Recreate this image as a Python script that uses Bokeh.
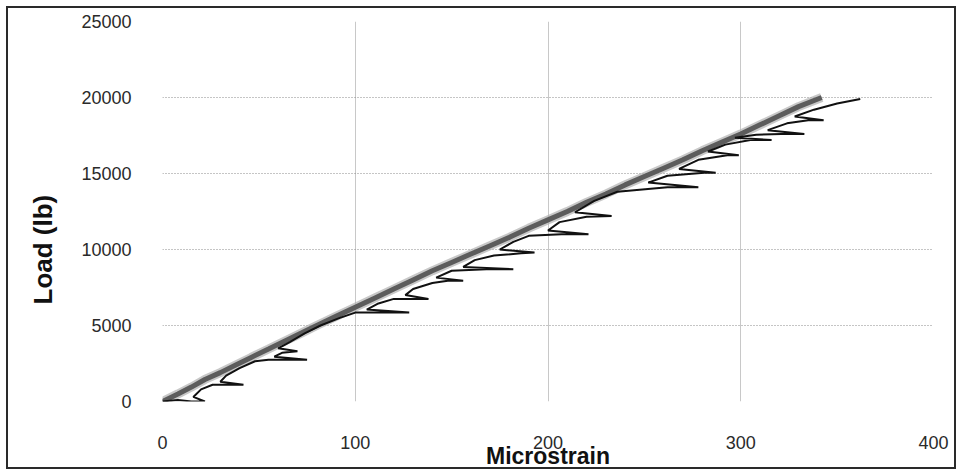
from bokeh.plotting import figure
from bokeh.models import Range1d, Title, FixedTicker
from bokeh.embed import file_html
from bokeh.resources import INLINE

# ---- data ----
x_ticks = [0, 100, 200, 300, 400]
y_ticks = [0, 5000, 10000, 15000, 20000, 25000]

gray_strain = [0, 8, 15, 22, 30, 38, 46, 55, 63, 72, 80, 90, 100, 110, 120, 130, 140,
               150, 160, 170, 180, 190, 200, 210, 220, 230, 240, 250, 260, 270, 280,
               290, 300, 310, 320, 330, 342]
gray_load = [0, 500, 950, 1450, 1900, 2400, 2900, 3450, 3950, 4500, 5000, 5600, 6200,
             6800, 7400, 8000, 8600, 9150, 9700, 10250, 10800, 11400, 11950, 12500,
             13100, 13650, 14250, 14800, 15350, 15900, 16500, 17050, 17600, 18200,
             18800, 19400, 20000]

black_strain = [0, 8, 15, 22, 16, 20, 26, 42, 30, 33, 40, 48, 55, 75, 58, 62, 70, 60,
                66, 74, 82, 92, 100, 128, 106, 112, 120, 138, 126, 130, 140, 148, 156,
                142, 150, 168, 182, 156, 162, 172, 186, 193, 175, 182, 190, 207, 221,
                200, 206, 220, 233, 214, 224, 236, 262, 278, 252, 262, 281, 287, 268,
                278, 293, 299, 283, 292, 305, 316, 297, 308, 321, 333, 314, 324, 335,
                343, 328, 338, 350, 362]
black_load = [0, 100, 0, 0, 300, 800, 1100, 1100, 1300, 1700, 2200, 2650, 2750, 2750,
              2950, 3200, 3300, 3500, 3900, 4500, 5000, 5500, 5850, 5850, 6050, 6450,
              6750, 6750, 7000, 7400, 7800, 7950, 7950, 8150, 8600, 8700, 8700, 8850,
              9300, 9600, 9750, 9800, 10000, 10500, 10900, 11000, 11000, 11250, 11800,
              12150, 12200, 12450, 13200, 13800, 14100, 14100, 14400, 14850, 15050,
              15050, 15300, 15900, 16200, 16200, 16450, 16900, 17200, 17200, 17350,
              17550, 17600, 17600, 17850, 18300, 18500, 18500, 18750, 19200, 19600,
              19900]

FONT = "Liberation Sans"

p = figure(width=950, height=463, output_backend="svg", toolbar_location=None,
           x_range=Range1d(0, 400), y_range=Range1d(0, 25000),
           min_border_left=154, min_border_right=25, min_border_top=13,
           min_border_bottom=68)
p.styles = {"border": "2px solid #2a2a2a", "margin-left": "6px", "margin-top": "6px"}
p.background_fill_color = "white"
p.border_fill_color = "white"
p.outline_line_color = None

# series
p.line(gray_strain, gray_load, line_color="#b0b0b0", line_width=9, line_alpha=0.7)
p.line(gray_strain, gray_load, line_color="#5c5c5c", line_width=5)
p.line(black_strain, black_load, line_color="#111111", line_width=2)

# axes
for ax in (p.xaxis[0], p.yaxis[0]):
    ax.axis_line_color = None
    ax.major_tick_line_color = None
    ax.minor_tick_line_color = None
    ax.major_label_text_font = FONT
    ax.major_label_text_font_size = "18px"
    ax.major_label_text_color = "#2a2a2a"
p.xaxis.ticker = FixedTicker(ticks=x_ticks)
p.yaxis.ticker = FixedTicker(ticks=y_ticks)
p.xaxis.major_label_standoff = 28
p.yaxis.major_label_standoff = 25
p.xaxis.axis_label = "Microstrain"
p.xaxis.axis_label_text_font = FONT
p.xaxis.axis_label_text_font_size = "23px"
p.xaxis.axis_label_text_font_style = "bold"
p.xaxis.axis_label_text_color = "#111111"
p.xaxis.axis_label_standoff = -9

ylab = Title(text="Load (lb)", align="left", vertical_align="top", offset=97,
             standoff=37, text_font=FONT, text_font_size="26px",
             text_font_style="bold", text_color="#111111")
p.add_layout(ylab, "left")

# grids
p.xgrid.grid_line_color = "#c8c8c8"
p.xgrid.grid_line_width = 1
p.ygrid.grid_line_color = "#8a8a8a"
p.ygrid.grid_line_dash = "1 2"
p.ygrid.grid_line_width = 1

open("out.html", "w").write(file_html(p, INLINE))
